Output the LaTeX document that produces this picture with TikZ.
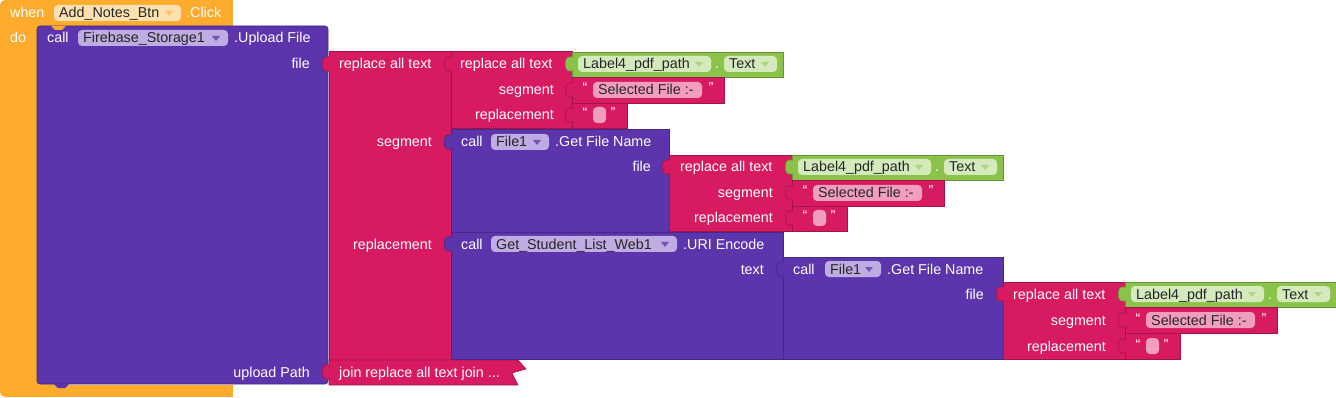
\documentclass[tikz,border=0pt]{standalone}
\usepackage{fontspec}
\setmainfont{Liberation Sans}
\definecolor{EventClr}{RGB}{255,171,45}
\definecolor{EventPillClr}{RGB}{255,224,176}
\definecolor{CallClr}{RGB}{92,53,173}
\definecolor{CallPillClr}{RGB}{190,172,226}
\definecolor{TextClr}{RGB}{216,27,96}
\definecolor{TextPillClr}{RGB}{240,158,188}
\definecolor{CompClr}{RGB}{139,195,74}
\definecolor{CompPillClr}{RGB}{212,233,188}
\newcommand{\blkfont}{\fontsize{14.3}{16}\selectfont}
% block body, output tab, field pill, dropdown arrow
\newcommand{\blk}[5]{\draw[fill=#1,draw=#1!75!black,line width=.6pt] (#2,#3) rectangle (#4,#5);}
\newcommand{\tabAt}[3]{\draw[fill=#1,draw=#1!75!black,line width=.6pt] (#2+1,#3-7) -- (#2-3,#3-7) .. controls (#2-8,#3-7) and (#2-8,#3+7) .. (#2-3,#3+7) -- (#2+1,#3+7);}
\newcommand{\pill}[6]{\fill[#4,rounded corners=4pt] (#1,#3-8) rectangle (#2,#3+8); \node[pilltxt] (#5) at (#1+5,#3+5) {#6};}
\newcommand{\ddown}[3]{\fill[#3] (#1-4,#2-2) -- (#1+4,#2-2) -- (#1,#2+3) -- cycle;}

\begin{document}
\begin{tikzpicture}[x=1pt,y=-1pt,
  lbl/.style={text=white,font=\blkfont,inner sep=0pt,anchor=base west},
  lblr/.style={lbl,anchor=base east},
  pilltxt/.style={text=black!85,font=\blkfont,inner sep=0pt,anchor=base west},
  quot/.style={text=white,font=\blkfont,inner sep=0pt,anchor=base}]
\useasboundingbox (0,0) rectangle (1336,398);

% when ... do
\fill[EventClr,rounded corners=5pt] (0,0) rectangle (60,397);
\fill[EventClr] (30,0) rectangle (233,26);
\fill[EventClr] (30,385) rectangle (233,397);
\node[lbl] (when) at (10,18) {when};
\pill{54}{181}{13}{EventPillClr}{btn}{Add\_Notes\_Btn} \ddown{169}{13}{EventClr!70!white}
\node[lbl] (click) at (186,18) {.Click};
\node[lbl] (do) at (10,43) {do};

% call Firebase_Storage1.Upload File
\draw[fill=CallClr,draw=CallClr!75!black,line width=.6pt,rounded corners=3pt] (37,26) rectangle (328,384);
\fill[EventClr] (51,26) -- (55,30) -- (62,30) -- (66,26) -- cycle;
\fill[CallClr] (54,384) -- (58,388) -- (65,388) -- (69,384) -- cycle;
\node[lbl] (call0) at (47,43) {call};
\pill{78}{228}{38}{CallPillClr}{fbs}{Firebase\_Storage1} \ddown{216}{38}{CallClr!85!white}
\node[lbl] (upl) at (234,43) {.Upload File};
\node[lblr] (file0) at (310,69) {file};
\node[lblr] (upath) at (310,377) {upload Path};

% outer replace all text
\blk{TextClr}{329}{51}{451}{360} \tabAt{TextClr}{329}{64}
\node[lbl] (rat0) at (339,69) {replace all text};
\node[lblr] (seg0) at (432,147) {segment};
\node[lblr] (rep0) at (432,249) {replacement};

% collapsed join
\draw[fill=TextClr,draw=TextClr!75!black,line width=.6pt] (329,360) -- (518,360) -- (526,369) -- (512,373) -- (518,385) -- (329,385) -- cycle;
\tabAt{TextClr}{329}{372}
\node[lbl] (join) at (339,377) {join replace all text join ...};

% replace all text (1)
\blk{TextClr}{451}{51}{572}{128} \tabAt{TextClr}{451}{64}
\node[lbl] (rat1) at (460,69) {replace all text};
\node[lblr] (seg1) at (554,95) {segment};
\node[lblr] (rep1) at (554,120) {replacement};
\blk{CompClr}{572}{52}{783}{77} \tabAt{CompClr}{572}{64}
\pill{578}{711}{64}{CompPillClr}{lab1}{Label4\_pdf\_path} \ddown{699}{64}{CompClr!70!white}
\node[lbl] (dot1) at (715,69) {.};
\pill{724}{777}{64}{CompPillClr}{txt1}{Text} \ddown{765}{64}{CompClr!70!white}
\blk{TextClr}{572}{77}{724}{103} \tabAt{TextClr}{572}{90}
\node[quot] (lqa1) at (585,93) {“};
\pill{593}{702}{90}{TextPillClr}{sf1}{Selected File :-}
\node[quot] (rqa1) at (711,93) {”};
\blk{TextClr}{572}{103}{627}{128} \tabAt{TextClr}{572}{115}
\node[quot] (lqb1) at (585,118) {“};
\pill{593}{606}{115}{TextPillClr}{em1}{}
\node[quot] (rqb1) at (613,118) {”};

% call File1.Get File Name (1)
\blk{CallClr}{451}{129}{669}{232} \tabAt{CallClr}{451}{142}
\node[lbl] (call1) at (461,147) {call};
\pill{491}{549}{142}{CallPillClr}{fa}{File1} \ddown{537}{142}{CallClr!85!white}
\node[lbl] (gfn1) at (555,147) {.Get File Name};
\node[lblr] (file1) at (651,172) {file};

% replace all text (2)
\blk{TextClr}{669}{155}{792}{231} \tabAt{TextClr}{669}{167}
\node[lbl] (rat2) at (680,172) {replace all text};
\node[lblr] (seg2) at (773,198) {segment};
\node[lblr] (rep2) at (773,223) {replacement};
\blk{CompClr}{792}{155}{1003}{180} \tabAt{CompClr}{792}{167}
\pill{798}{931}{167}{CompPillClr}{lab2}{Label4\_pdf\_path} \ddown{919}{167}{CompClr!70!white}
\node[lbl] (dot2) at (935,172) {.};
\pill{944}{997}{167}{CompPillClr}{txt2}{Text} \ddown{985}{167}{CompClr!70!white}
\blk{TextClr}{792}{180}{944}{206} \tabAt{TextClr}{792}{193}
\node[quot] (lqa2) at (805,196) {“};
\pill{813}{922}{193}{TextPillClr}{sf2}{Selected File :-}
\node[quot] (rqa2) at (931,196) {”};
\blk{TextClr}{792}{206}{847}{231} \tabAt{TextClr}{792}{218}
\node[quot] (lqb2) at (805,221) {“};
\pill{813}{826}{218}{TextPillClr}{em2}{}
\node[quot] (rqb2) at (833,221) {”};

% call Get_Student_List_Web1.URI Encode
\blk{CallClr}{451}{232}{783}{359} \tabAt{CallClr}{451}{244}
\node[lbl] (call2) at (461,249) {call};
\pill{491}{677}{244}{CallPillClr}{web}{Get\_Student\_List\_Web1} \ddown{665}{244}{CallClr!85!white}
\node[lbl] (uri) at (683,249) {.URI Encode};
\node[lblr] (text0) at (764,274) {text};

% call File1.Get File Name (2)
\blk{CallClr}{783}{257}{1003}{359} \tabAt{CallClr}{783}{269}
\node[lbl] (call3) at (793,274) {call};
\pill{825}{881}{269}{CallPillClr}{fb}{File1} \ddown{869}{269}{CallClr!85!white}
\node[lbl] (gfn2) at (887,274) {.Get File Name};
\node[lblr] (file2) at (984,299) {file};

% replace all text (3)
\blk{TextClr}{1003}{282}{1125}{359} \tabAt{TextClr}{1003}{294}
\node[lbl] (rat3) at (1013,299) {replace all text};
\node[lblr] (seg3) at (1106,325) {segment};
\node[lblr] (rep3) at (1106,351) {replacement};
\blk{CompClr}{1125}{282}{1336}{307} \tabAt{CompClr}{1125}{294}
\pill{1131}{1264}{294}{CompPillClr}{lab3}{Label4\_pdf\_path} \ddown{1252}{294}{CompClr!70!white}
\node[lbl] (dot3) at (1268,299) {.};
\pill{1277}{1330}{294}{CompPillClr}{txt3}{Text} \ddown{1318}{294}{CompClr!70!white}
\blk{TextClr}{1125}{307}{1277}{333} \tabAt{TextClr}{1125}{320}
\node[quot] (lqa3) at (1138,323) {“};
\pill{1146}{1255}{320}{TextPillClr}{sf3}{Selected File :-}
\node[quot] (rqa3) at (1264,323) {”};
\blk{TextClr}{1125}{333}{1180}{359} \tabAt{TextClr}{1125}{346}
\node[quot] (lqb3) at (1138,349) {“};
\pill{1146}{1159}{346}{TextPillClr}{em3}{}
\node[quot] (rqb3) at (1166,349) {”};

\end{tikzpicture}
\end{document}
